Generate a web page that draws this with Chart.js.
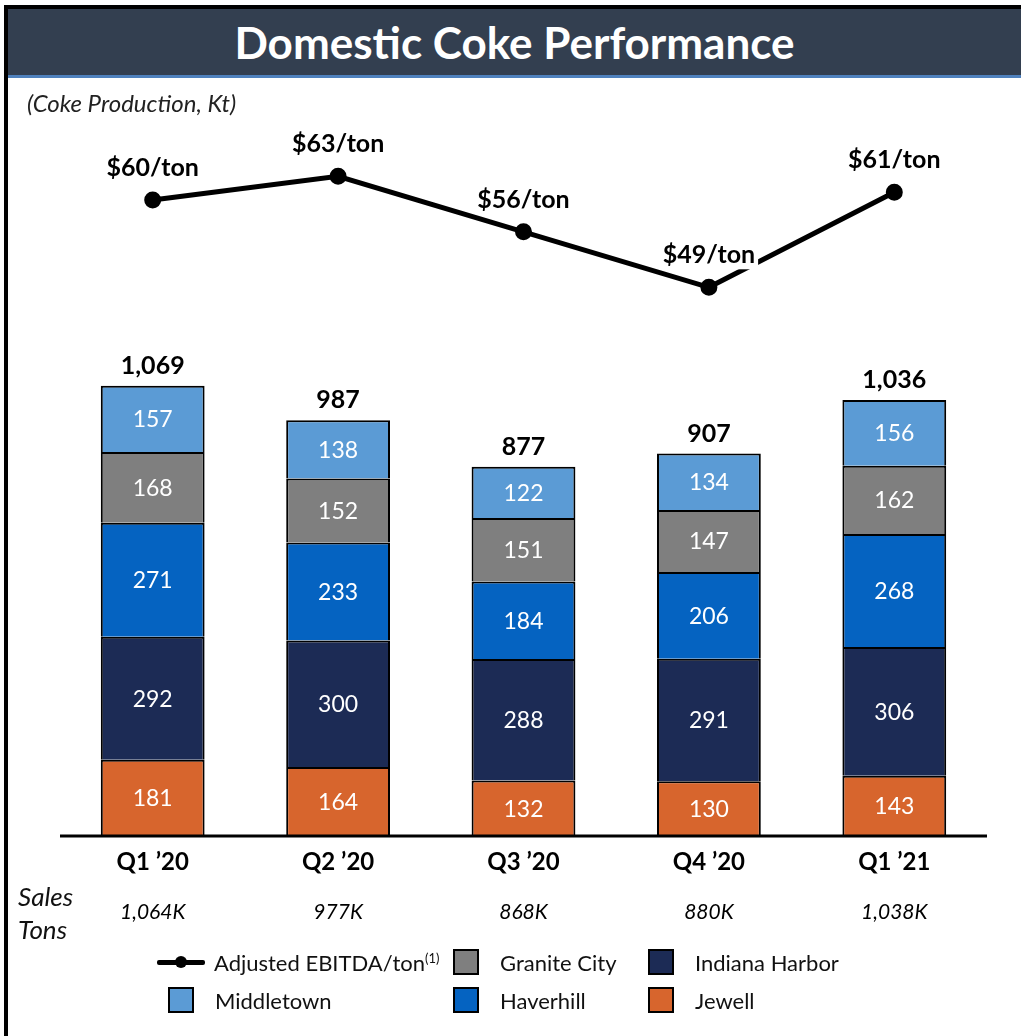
<!DOCTYPE html>
<html lang="en">
<head>
  <meta charset="UTF-8" />
  <title>Domestic Coke Performance</title>
  <script src="https://cdn.jsdelivr.net/npm/chart.js"></script>
  <style>
    body { margin: 0; width: 1021px; height: 1036px; position: relative; background: #fff; font-family: Lato, "Open Sans", sans-serif; overflow: hidden; }
    #chart { position: absolute; left: 0; top: 0; }
    .frame-top { position: absolute; left: 4px; top: 5px; width: 1017px; height: 4px; background: #000; }
    .frame-left { position: absolute; left: 4px; top: 5px; width: 4px; height: 1031px; background: #000; }
    .title-bar { position: absolute; left: 8px; top: 9px; width: 1013px; height: 66px; background: #333f50; border-bottom: 3px solid #4f81bd;
      color: #fff; font-weight: bold; font-size: 44px; text-align: center; line-height: 66px; }
    .subtitle { position: absolute; left: 27px; top: 88px; font-style: italic; font-size: 24px; color: #222; }
    .sales { position: absolute; left: 18px; top: 880px; font-style: italic; font-size: 26px; line-height: 33px; color: #111; }
    .leg { position: absolute; font-size: 22px; color: #111; display: flex; align-items: center; height: 26px; }
    .leg .box { width: 22px; height: 22px; border: 2px solid #000; margin-right: 21px; }
    .leg .line { width: 48px; height: 14px; position: relative; margin-right: 9px; }
    .leg .line::before { content: ""; position: absolute; left: 0; right: 0; top: 5px; height: 5px; background: #000; border-radius: 2px; }
    .leg .line::after { content: ""; position: absolute; left: 18px; top: 1px; width: 12px; height: 12px; border-radius: 50%; background: #000; }
    .leg sup { font-size: 13px; vertical-align: 8px; }
  </style>
</head>
<body>
  <canvas id="chart" width="1021" height="1036"></canvas>
  <div class="frame-top"></div>
  <div class="frame-left"></div>
  <div class="title-bar">Domestic Coke Performance</div>
  <div class="subtitle">(Coke Production, Kt)</div>
  <div class="sales">Sales<br />Tons</div>
  <div id="legend"></div>

  <script>
    // quarters and values (Kt)
    const quarters = ['Q1 \u201920', 'Q2 \u201920', 'Q3 \u201920', 'Q4 \u201920', 'Q1 \u201921'];
    const jewell = [181, 164, 132, 130, 143];
    const indianaHarbor = [292, 300, 288, 291, 306];
    const haverhill = [271, 233, 184, 206, 268];
    const graniteCity = [168, 152, 151, 147, 162];
    const middletown = [157, 138, 122, 134, 156];
    const totals = ['1,069', '987', '877', '907', '1,036'];
    const ebitdaPerTon = [60, 63, 56, 49, 61];
    const salesTons = ['1,064K', '977K', '868K', '880K', '1,038K'];

    const colors = {
      jewell: '#d7652d',
      indiana: '#1c2b55',
      haverhill: '#0563c1',
      granite: '#7f7f7f',
      middletown: '#5b9bd5'
    };

    function barSet(label, data, color) {
      return {
        type: 'bar', label: label, data: data, backgroundColor: color,
        borderColor: '#000', borderWidth: 2, yAxisID: 'y', order: 2,
        barPercentage: 0.56, categoryPercentage: 1
      };
    }

    const overlay = {
      id: 'overlay',
      afterDatasetsDraw(chart) {
        const c = chart.ctx;
        const x = chart.scales.x, y = chart.scales.y;
        const area = chart.chartArea;
        c.save();
        // baseline
        c.strokeStyle = '#000';
        c.lineWidth = 3;
        c.beginPath();
        c.moveTo(area.left, y.getPixelForValue(0));
        c.lineTo(area.right, y.getPixelForValue(0));
        c.stroke();

        c.textAlign = 'center';
        c.textBaseline = 'middle';
        // segment values
        c.fillStyle = '#fff';
        c.font = '23px Lato, "Open Sans", sans-serif';
        for (let d = 0; d < 5; d++) {
          const meta = chart.getDatasetMeta(d);
          meta.data.forEach((bar, i) => {
            const v = chart.data.datasets[d].data[i];
            c.fillText(String(v), bar.x, (bar.y + bar.base) / 2 + 1);
          });
        }
        // totals
        c.fillStyle = '#000';
        c.font = 'bold 25px Lato, "Open Sans", sans-serif';
        const top = chart.getDatasetMeta(4);
        top.data.forEach((bar, i) => {
          c.fillText(totals[i], bar.x, bar.y - 20);
        });
        // line labels with white boxes
        const lm = chart.getDatasetMeta(5);
        lm.data.forEach((pt, i) => {
          const t = '$' + ebitdaPerTon[i] + '/ton';
          const w = c.measureText(t).width;
          c.fillStyle = '#fff';
          c.fillRect(pt.x - w / 2 - 3, pt.y - 48, w + 6, 30);
          c.fillStyle = '#000';
          c.fillText(t, pt.x, pt.y - 32);
        });
        // category labels and sales tons
        quarters.forEach((q, i) => {
          const px = x.getPixelForValue(i);
          c.font = 'bold 24px Lato, "Open Sans", sans-serif';
          c.fillText(q, px, 862);
          c.font = 'italic 21px Lato, "Open Sans", sans-serif';
          c.fillText(salesTons[i], px, 912);
        });
        c.restore();
      }
    };

    const chart = new Chart(document.getElementById('chart').getContext('2d'), {
      data: {
        labels: quarters,
        datasets: [
          barSet('Jewell', jewell, colors.jewell),
          barSet('Indiana Harbor', indianaHarbor, colors.indiana),
          barSet('Haverhill', haverhill, colors.haverhill),
          barSet('Granite City', graniteCity, colors.granite),
          barSet('Middletown', middletown, colors.middletown),
          {
            type: 'line', label: 'Adjusted EBITDA/ton', data: ebitdaPerTon, yAxisID: 'y1', order: 1,
            borderColor: '#000', borderWidth: 5, pointRadius: 6, pointBackgroundColor: '#000',
            pointBorderColor: '#000', tension: 0
          }
        ]
      },
      options: {
        responsive: false,
        animation: false,
        layout: { padding: { left: 60, right: 34, top: 120, bottom: 200 } },
        plugins: { legend: { display: false }, tooltip: { enabled: false } },
        scales: {
          x: { display: false, stacked: true },
          y: { display: false, stacked: true, min: 0, max: 1700 },
          y1: { display: false, min: -20.2, max: 70.1 }
        }
      },
      plugins: [overlay]
    });

    // legend built from the datasets
    const legendItems = [
      { ds: 5, left: 157, top: 949 },
      { ds: 3, left: 453, top: 949 },
      { ds: 1, left: 648, top: 949 },
      { ds: 4, left: 168, top: 987 },
      { ds: 2, left: 453, top: 987 },
      { ds: 0, left: 648, top: 987 }
    ];
    const legend = document.getElementById('legend');
    legendItems.forEach(it => {
      const ds = chart.data.datasets[it.ds];
      const el = document.createElement('div');
      el.className = 'leg';
      el.style.left = it.left + 'px';
      el.style.top = it.top + 'px';
      if (ds.type === 'line') {
        el.innerHTML = '<span class="line"></span><span>' + ds.label + '<sup>(1)</sup></span>';
      } else {
        el.innerHTML = '<span class="box" style="background:' + ds.backgroundColor + '"></span><span>' + ds.label + '</span>';
      }
      legend.appendChild(el);
    });
  </script>
</body>
</html>
